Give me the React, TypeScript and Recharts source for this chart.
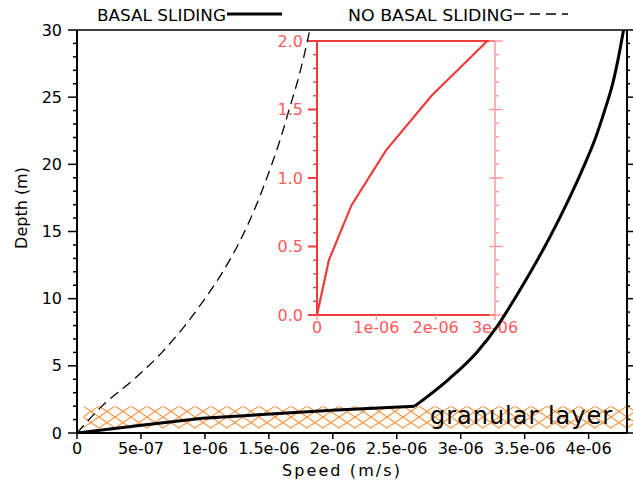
import React from 'react';
import { LineChart, Line, XAxis, YAxis, ReferenceArea, ReferenceLine } from 'recharts';

const FONT = "'DejaVu Sans', sans-serif";
const RED = '#ee3b3b';
const RED_TEXT = '#ff5a5a';
const PINK = '#ff9c9c';
const ORANGE = '#f39a4c';

// ---------- legend / titles ----------
const seriesNames = ['BASAL SLIDING', 'NO BASAL SLIDING'];
const xTitle = 'Speed (m/s)';
const yTitle = 'Depth (m)';
const granularLabel = 'granular layer';

// ---------- main axes ----------
const xDomain = [0, 4.3e-6];
const yDomain = [0, 30];
const xTickValues = [0, 5e-7, 1e-6, 1.5e-6, 2e-6, 2.5e-6, 3e-6, 3.5e-6, 4e-6];
const xTickLabels = ['0', '5e-07', '1e-06', '1.5e-06', '2e-06', '2.5e-06', '3e-06', '3.5e-06', '4e-06'];
const yTickValues = [0, 1, 2, 3, 4, 5, 6, 7, 8, 9, 10, 11, 12, 13, 14, 15, 16, 17, 18, 19, 20, 21, 22, 23, 24, 25, 26, 27, 28, 29, 30];
const yMajorStep = 5;

// ---------- granular layer band ----------
const granularTop = 2;
const granularHatchBottom = 0.35;
const granularHatchStart = 0.05e-6;
const granularHatchEnd = 4.35e-6;

// ---------- series: BASAL SLIDING (solid) ----------
const basalGranularSpeed = [0, 0.47e-6, 0.98e-6, 1.51e-6, 2.03e-6, 2.64e-6];
const basalGranularDepth = [0, 0.54, 1.09, 1.41, 1.71, 2.0];
const basalUpperSpeed = [2.64e-6, 2.906e-6, 3.125e-6, 3.289e-6, 3.422e-6, 3.547e-6, 3.664e-6, 3.773e-6, 3.875e-6, 3.969e-6, 4.055e-6, 4.125e-6, 4.188e-6, 4.234e-6, 4.273e-6];
const basalUpperDepth = [2, 4, 6, 8, 10, 12, 14, 16, 18, 20, 22, 24, 26, 28, 30];

// ---------- series: NO BASAL SLIDING (dashed) ----------
const noBasalSpeed = [0, 0.195e-6, 0.445e-6, 0.664e-6, 0.844e-6, 1.0e-6, 1.14e-6, 1.258e-6, 1.359e-6, 1.445e-6, 1.523e-6, 1.594e-6, 1.656e-6, 1.719e-6, 1.773e-6, 1.82e-6];
const noBasalDepth = [0, 2, 4, 6, 8, 10, 12, 14, 16, 18, 20, 22, 24, 26, 28, 30];

// ---------- inset ----------
const insetXDomain = [0, 3e-6];
const insetYDomain = [0, 2];
const insetSpeed = [0, 0.2e-6, 0.58e-6, 1.16e-6, 1.93e-6, 2.87e-6];
const insetDepth = [0, 0.4, 0.8, 1.2, 1.6, 2.0];
const insetXTicks = [0, 1e-6, 2e-6, 3e-6];
const insetXTickLabels = ['0', '1e-06', '2e-06', '3e-06'];
const insetYTicks = [0, 0.1, 0.2, 0.3, 0.4, 0.5, 0.6, 0.7, 0.8, 0.9, 1.0, 1.1, 1.2, 1.3, 1.4, 1.5, 1.6, 1.7, 1.8, 1.9, 2.0];
const insetYMajor = [0, 0.5, 1.0, 1.5, 2.0];
const insetYMajorLabels = ['0.0', '0.5', '1.0', '1.5', '2.0'];

const toPoints = (s: number[], d: number[]) => s.map((v, i) => ({ speed: v, depth: d[i] }));
const basalGranular = toPoints(basalGranularSpeed, basalGranularDepth);
const basalUpper = toPoints(basalUpperSpeed, basalUpperDepth);
const noBasal = toPoints(noBasalSpeed, noBasalDepth);
const insetPoints = toPoints(insetSpeed, insetDepth);

const closestIndex = (arr: number[], v: number) => {
  let best = 0;
  arr.forEach((a, i) => {
    if (Math.abs(a - v) < Math.abs(arr[best] - v)) best = i;
  });
  return best;
};

const MainXTick = (props: any) => {
  const { x, y, payload } = props;
  const i = closestIndex(xTickValues, payload.value);
  return (
    <g>
      <line x1={x} y1={y} x2={x} y2={y + 6} stroke="#000" strokeWidth={1.5} />
      <text x={x} y={y + 15} textAnchor="middle" dominantBaseline="central" fontSize={16} fontFamily={FONT} fill="#000">
        {xTickLabels[i]}
      </text>
    </g>
  );
};

const MainYTickLeft = (props: any) => {
  const { x, y, payload } = props;
  const v = payload.value;
  const major = v % yMajorStep === 0;
  return (
    <g>
      <line x1={x - (major ? 9 : 4)} y1={y} x2={x} y2={y} stroke="#000" strokeWidth={1.5} />
      {major && (
        <text x={x - 15} y={y} textAnchor="end" dominantBaseline="central" fontSize={16} fontFamily={FONT} fill="#000">
          {v}
        </text>
      )}
    </g>
  );
};

const MainYTickRight = (props: any) => {
  const { x, y, payload } = props;
  const major = payload.value % yMajorStep === 0;
  return <line x1={x} y1={y} x2={x + (major ? 6 : 3)} y2={y} stroke="#000" strokeWidth={1.5} />;
};

const InsetXTick = (props: any) => {
  const { x, y, payload } = props;
  const i = closestIndex(insetXTicks, payload.value);
  return (
    <g>
      <line x1={x} y1={y} x2={x} y2={y + 5} stroke={PINK} strokeWidth={1.5} />
      <text x={x} y={y + 12} textAnchor="middle" dominantBaseline="central" fontSize={16} fontFamily={FONT} fill={RED_TEXT}>
        {insetXTickLabels[i]}
      </text>
    </g>
  );
};

const isInsetMajor = (v: number) => insetYMajor.some((m) => Math.abs(m - v) < 1e-6);

const InsetYTickLeft = (props: any) => {
  const { x, y, payload } = props;
  const v = payload.value;
  const major = isInsetMajor(v);
  const i = closestIndex(insetYMajor, v);
  return (
    <g>
      <line x1={x - (major ? 9 : 4)} y1={y} x2={x} y2={y} stroke={RED} strokeWidth={major ? 2 : 1.3} />
      {major && (
        <text x={x - 14} y={y} textAnchor="end" dominantBaseline="central" fontSize={16} fontFamily={FONT} fill={RED_TEXT}>
          {insetYMajorLabels[i]}
        </text>
      )}
    </g>
  );
};

const InsetYTickRight = (props: any) => {
  const { x, y, payload } = props;
  const major = isInsetMajor(payload.value);
  return <line x1={major ? x - 6 : x} y1={y} x2={x + (major ? 8 : 4)} y2={y} stroke={PINK} strokeWidth={1.5} />;
};

export default function App() {
  return (
    <div style={{ position: 'absolute', left: 0, top: 0, width: 633, height: 481, background: '#fff', overflow: 'hidden' }}>
      <svg width={0} height={0} style={{ position: 'absolute' }}>
        <defs>
          <pattern id="granularHatch" patternUnits="userSpaceOnUse" x={83} y={406} width={16} height={11}>
            <line x1={-1} y1={-0.6875} x2={17} y2={11.6875} stroke={ORANGE} strokeWidth={1.2} />
            <line x1={17} y1={-0.6875} x2={-1} y2={11.6875} stroke={ORANGE} strokeWidth={1.2} />
            <circle cx={0} cy={0} r={1} fill={ORANGE} />
            <circle cx={16} cy={0} r={1} fill={ORANGE} />
            <circle cx={8} cy={5.5} r={1} fill={ORANGE} />
            <circle cx={0} cy={11} r={1} fill={ORANGE} />
            <circle cx={16} cy={11} r={1} fill={ORANGE} />
          </pattern>
        </defs>
      </svg>

      {/* inset (drawn beneath the main curves) */}
      <div style={{ position: 'absolute', left: 270, top: 25 }}>
        <LineChart width={275} height={320} margin={{ top: 16, right: 0, bottom: 0, left: 0 }}>
          <XAxis
            type="number"
            dataKey="speed"
            domain={insetXDomain}
            ticks={insetXTicks}
            interval={0}
            tickSize={0}
            tickMargin={0}
            tickLine={false}
            tick={(p: any) => <InsetXTick {...p} />}
            height={30}
            axisLine={{ stroke: RED, strokeWidth: 2 }}
            allowDataOverflow
          />
          <YAxis
            yAxisId="l"
            type="number"
            domain={insetYDomain}
            ticks={insetYTicks}
            interval={0}
            tickSize={0}
            tickMargin={0}
            tickLine={false}
            tick={(p: any) => <InsetYTickLeft {...p} />}
            width={47}
            axisLine={{ stroke: RED, strokeWidth: 2 }}
            allowDataOverflow
          />
          <YAxis
            yAxisId="r"
            orientation="right"
            type="number"
            domain={insetYDomain}
            ticks={insetYTicks}
            interval={0}
            tickSize={0}
            tickMargin={0}
            tickLine={false}
            tick={(p: any) => <InsetYTickRight {...p} />}
            width={50}
            axisLine={{ stroke: PINK, strokeWidth: 1.5 }}
            allowDataOverflow
          />
          <ReferenceLine yAxisId="l" y={insetYDomain[1]} stroke={RED} strokeWidth={2} />
          <Line
            yAxisId="l"
            data={insetPoints}
            dataKey="depth"
            type="linear"
            stroke={RED}
            strokeWidth={2.2}
            dot={false}
            isAnimationActive={false}
          />
        </LineChart>
      </div>

      <div style={{ position: 'absolute', left: 0, top: 0 }}>
        <LineChart width={633} height={481} margin={{ top: 30, right: 0, bottom: 0, left: 0 }}>
          <XAxis
            type="number"
            dataKey="speed"
            domain={xDomain}
            ticks={xTickValues}
            interval={0}
            tickSize={0}
            tickMargin={0}
            tickLine={false}
            tick={(p: any) => <MainXTick {...p} />}
            height={48}
            axisLine={{ stroke: '#000', strokeWidth: 2 }}
            allowDataOverflow
          />
          <YAxis
            yAxisId="l"
            type="number"
            domain={yDomain}
            ticks={yTickValues}
            interval={0}
            tickSize={0}
            tickMargin={0}
            tickLine={false}
            tick={(p: any) => <MainYTickLeft {...p} />}
            width={77}
            axisLine={{ stroke: '#000', strokeWidth: 2 }}
            allowDataOverflow
          />
          <YAxis
            yAxisId="r"
            orientation="right"
            type="number"
            domain={yDomain}
            ticks={yTickValues}
            interval={0}
            tickSize={0}
            tickMargin={0}
            tickLine={false}
            tick={(p: any) => <MainYTickRight {...p} />}
            width={6}
            axisLine={{ stroke: '#000', strokeWidth: 2 }}
            allowDataOverflow
          />
          <ReferenceArea
            yAxisId="l"
            x1={granularHatchStart}
            x2={granularHatchEnd}
            y1={granularHatchBottom}
            y2={granularTop}
            fill="url(#granularHatch)"
            fillOpacity={1}
            stroke="none"
            ifOverflow="visible"
          />
          <ReferenceLine yAxisId="l" y={yDomain[1]} stroke="#000" strokeWidth={1.5} />
          <Line
            yAxisId="l"
            data={noBasal}
            dataKey="depth"
            type="monotone"
            stroke="#000"
            strokeWidth={1.3}
            strokeDasharray="10 6"
            dot={false}
            isAnimationActive={false}
          />
          <Line
            yAxisId="l"
            data={basalGranular}
            dataKey="depth"
            type="linear"
            stroke="#000"
            strokeWidth={3}
            dot={false}
            isAnimationActive={false}
          />
          <Line
            yAxisId="l"
            data={basalUpper}
            dataKey="depth"
            type="monotone"
            stroke="#000"
            strokeWidth={3}
            dot={false}
            isAnimationActive={false}
          />
        </LineChart>
      </div>

      <svg width={633} height={481} style={{ position: 'absolute', left: 0, top: 0, pointerEvents: 'none' }}>
        <text x={97} y={21} fontSize={16} fontFamily={FONT} fill="#000" textLength={129} lengthAdjust="spacingAndGlyphs">
          {seriesNames[0]}
        </text>
        <line x1={227} y1={14} x2={282} y2={14} stroke="#000" strokeWidth={3} />
        <text x={348} y={21} fontSize={16} fontFamily={FONT} fill="#000" textLength={165} lengthAdjust="spacingAndGlyphs">
          {seriesNames[1]}
        </text>
        <line x1={514} y1={14} x2={568} y2={14} stroke="#000" strokeWidth={1.3} strokeDasharray="10 6" />

        <text x={282} y={476} fontSize={16} fontFamily={FONT} fill="#000" textLength={118} lengthAdjust="spacing">
          {xTitle}
        </text>
        <text
          x={0}
          y={0}
          transform="translate(27 208) rotate(-90)"
          textAnchor="middle"
          fontSize={16}
          fontFamily={FONT}
          fill="#000"
        >
          {yTitle}
        </text>
        <text x={430} y={424} fontSize={24} fontFamily={FONT} fill="#000" textLength={182} lengthAdjust="spacing">
          {granularLabel}
        </text>
      </svg>
    </div>
  );
}
